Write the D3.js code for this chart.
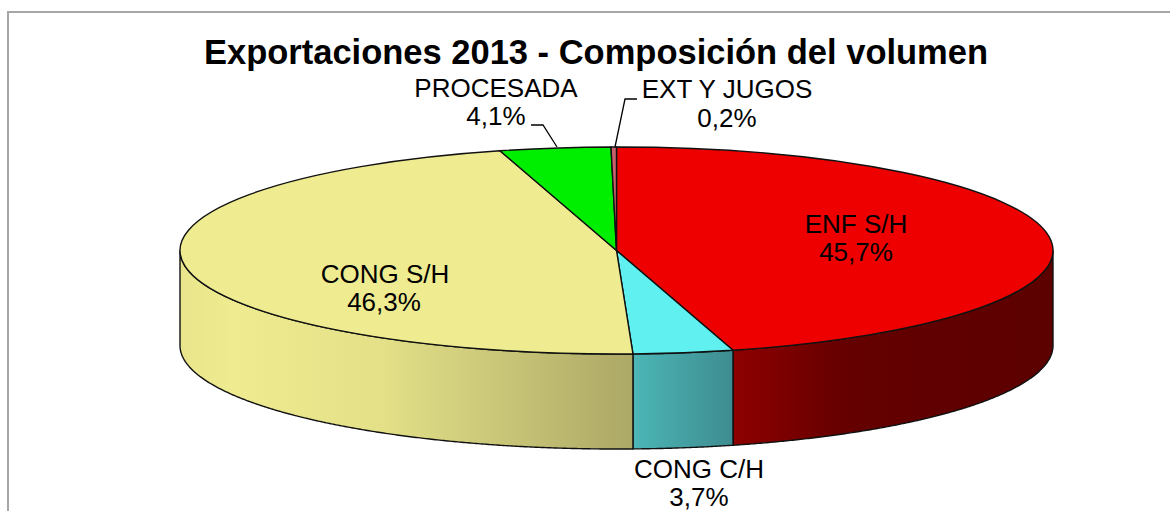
<!DOCTYPE html>
<html>
<head>
<meta charset="utf-8">
<script src="https://cdn.jsdelivr.net/npm/d3@7"></script>
<style>
  html, body { margin: 0; padding: 0; background: #fff; overflow: hidden; }
  text { font-family: "Liberation Sans", Arial, sans-serif; fill: #000; }
</style>
</head>
<body>
<div id="grafico"></div>
<script>
// Datos, en orden horario desde las 12
var categories = ["ENF S/H", "CONG C/H", "CONG S/H", "PROCESADA", "EXT Y JUGOS"];
var values = [45.7, 3.7, 46.3, 4.1, 0.2];
var valueLabels = ["45,7%", "3,7%", "46,3%", "4,1%", "0,2%"];
var titleText = "Exportaciones 2013 - Composición del volumen";

var topColors = ["#ee0000", "#60f0f0", "#eeeb90", "#00ee00", "#c8606c"];
// paredes: [offset, color] de cada degradado
var wallStops = [
    [[0, "#8e0000"], [0.36, "#640000"], [1, "#5c0000"]],
    [[0, "#4cb6b6"], [1, "#3e8c90"]],
    [[0, "#e8e58c"], [0.12, "#eeeb90"], [0.45, "#e3e088"], [1, "#aca866"]],
    [], []
];

var w = 1170, h = 511,
    cx = 616.5, cy = 250.5,
    rx = 436.5, ry = 103.5,
    depth = 95;

var svg = d3.select("#grafico").append("svg")
    .attr("width", w)
    .attr("height", h)
    .style("display", "block");

// marco del grafico (se corta por la derecha y por abajo)
svg.append("rect")
    .attr("x", 8).attr("y", 12)
    .attr("width", w).attr("height", h)
    .attr("fill", "white")
    .attr("stroke", "#a6a6a6")
    .attr("stroke-width", 2);

svg.append("text")
    .attr("x", 596).attr("y", 64)
    .attr("text-anchor", "middle")
    .attr("font-weight", "bold")
    .attr("font-size", 34.5)
    .text(titleText);

var pie = d3.pie().sort(null).startAngle(0).endAngle(2 * Math.PI);
var slices = pie(values);

var px = function (a) { return cx + rx * Math.sin(a); },
    py = function (a) { return cy - ry * Math.cos(a); };

var defs = svg.append("defs");
var wall = d3.area()
    .x(function (a) { return px(a); })
    .y0(function (a) { return py(a) + depth; })
    .y1(function (a) { return py(a); });

// paredes laterales: solo la parte que mira al frente (90 a 270 grados)
slices.forEach(function (d, i) {
    var a0 = Math.max(d.startAngle, Math.PI / 2),
        a1 = Math.min(d.endAngle, 3 * Math.PI / 2);
    if (a1 <= a0 || !wallStops[i].length) return;

    var angles = d3.range(a0, a1, 0.005).concat([a1]);
    var xs = d3.extent(angles, px);
    var grad = defs.append("linearGradient")
        .attr("id", "wall" + i)
        .attr("gradientUnits", "userSpaceOnUse")
        .attr("x1", xs[0]).attr("x2", xs[1])
        .attr("y1", 0).attr("y2", 0);
    wallStops[i].forEach(function (s) {
        grad.append("stop").attr("offset", s[0]).attr("stop-color", s[1]);
    });

    svg.append("path")
        .attr("d", wall(angles))
        .attr("fill", "url(#wall" + i + ")")
        .attr("stroke", "#111")
        .attr("stroke-width", 1.4);
});

// tapa superior: arco circular aplastado a elipse
var arc = d3.arc().innerRadius(0).outerRadius(rx);
svg.append("g")
    .attr("transform", "translate(" + cx + "," + cy + ") scale(1," + (ry / rx) + ")")
    .selectAll("path")
    .data(slices)
    .enter().append("path")
    .attr("d", arc)
    .attr("fill", function (d, i) { return topColors[i]; })
    .attr("stroke", "#111")
    .attr("stroke-width", 1.4)
    .attr("vector-effect", "non-scaling-stroke");

// lineas guia
var leaders = [
    [[557, 147], [543, 125], [531, 125]],
    [[615, 147], [625, 99], [637, 99]]
];
svg.selectAll(".leader")
    .data(leaders)
    .enter().append("path")
    .attr("class", "leader")
    .attr("d", d3.line())
    .attr("fill", "none")
    .attr("stroke", "#000")
    .attr("stroke-width", 1.3);

// etiquetas: nombre y porcentaje
var labelPos = [
    [856, 233, 856, 261],
    [699, 477.5, 699, 505.5],
    [385, 282.5, 384, 311],
    [496, 97, 496, 125],
    [727, 98, 727, 127]
];
labelPos.forEach(function (p, i) {
    svg.append("text")
        .attr("x", p[0]).attr("y", p[1])
        .attr("text-anchor", "middle")
        .attr("font-size", 26)
        .text(categories[i]);
    svg.append("text")
        .attr("x", p[2]).attr("y", p[3])
        .attr("text-anchor", "middle")
        .attr("font-size", 26)
        .text(valueLabels[i]);
});
</script>
</body>
</html>
